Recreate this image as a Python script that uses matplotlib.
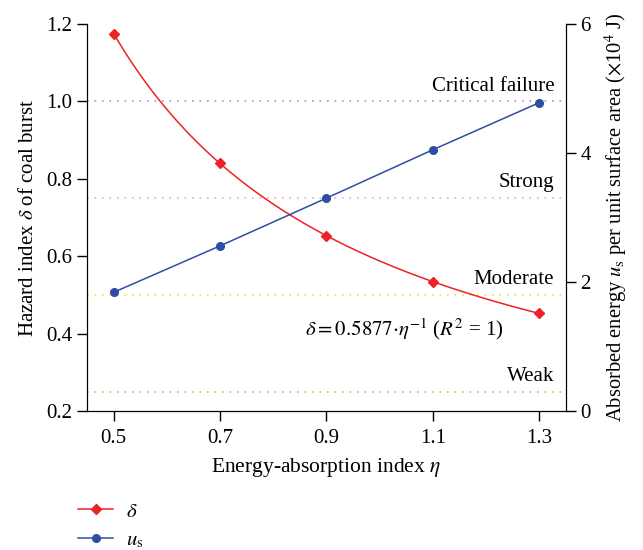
import numpy as np
import matplotlib
matplotlib.use('Agg')
from matplotlib import pyplot as plt

plt.rcParams['font.family'] = ['Liberation Serif', 'DejaVu Serif']
plt.rcParams['mathtext.fontset'] = 'stix'
plt.rcParams['font.size'] = 15

# data
eta = [0.5, 0.7, 0.9, 1.1, 1.3]
delta = [1.175, 0.840, 0.653, 0.534, 0.452]
u_s = [1.84, 2.56, 3.30, 4.05, 4.78]
fit_coef = 0.5877  # delta = 0.5877 / eta

levels = [1.0, 0.75, 0.5, 0.25]
level_names = ['Critical failure', 'Strong', 'Moderate', 'Weak']
level_colors = ['#c77fd6', '#f5a3c7', '#e6e33a', '#9ad45f']

red = '#ec2227'
blue = '#2f4ea3'

fig = plt.figure(figsize=(6.43, 5.5), dpi=100)
ax = fig.add_axes([0.1353, 0.2527, 0.7447, 0.7037])
ax2 = ax.twinx()

for lv, name, c in zip(levels, level_names, level_colors):
	ax.axhline(lv, color=c, linestyle=(0, (1, 3.5)), linewidth=1.2, zorder=1)
	ax.text(1.328, lv + 0.015, name, ha='right', va='bottom', fontsize=15)

xs = np.linspace(eta[0], eta[-1], 200)
ax.plot(xs, fit_coef / xs, color=red, linewidth=1.1, zorder=3)
ax.plot(eta, delta, linestyle='none', marker='D', markersize=5, color=red, zorder=4)
ax2.plot(eta, u_s, color=blue, linewidth=1.1, marker='o', markersize=5.5, zorder=4)

ax.text(0.86, 0.412, r'$\delta = 0.5877{\cdot}\eta^{-1}$ ($R^2$ = 1)', fontsize=15, va='center')

ax.set_xlim(0.45, 1.35)
ax.set_ylim(0.2, 1.2)
ax2.set_ylim(0, 6)
ax.set_xticks(eta)
ax.set_xticklabels(['0.5', '0.7', '0.9', '1.1', '1.3'])
ax.set_yticks([0.2, 0.4, 0.6, 0.8, 1.0, 1.2])
ax.set_yticklabels(['0.2', '0.4', '0.6', '0.8', '1.0', '1.2'])
ax2.set_yticks([0, 2, 4, 6])

for a in (ax, ax2):
	a.spines['top'].set_visible(False)
	a.tick_params(direction='out', length=7, width=1, labelsize=15)
ax.tick_params(axis='x', pad=6)

ax.set_xlabel(r'Energy-absorption index $\eta$', fontsize=15.5, labelpad=6)
ax.set_ylabel(r'Hazard index $\delta$ of coal burst', fontsize=15, labelpad=6)
ax2.set_ylabel(r'Absorbed energy $u_{\mathrm{s}}$ per unit surface area ($\times$10$^4$ J)', fontsize=14.8, labelpad=8)

h1, = ax.plot([], [], color=red, marker='D', markersize=5, linewidth=1.1)
h2, = ax.plot([], [], color=blue, marker='o', markersize=5.5, linewidth=1.1)
fig.legend([h1, h2], [r'$\delta$', r'$u_{\mathrm{s}}$'], loc='center left', bbox_to_anchor=(0.121, 0.043),
	frameon=False, fontsize=15, handlelength=1.7, handletextpad=0.6, labelspacing=0.45, borderpad=0, borderaxespad=0)

fig.savefig('out.png', dpi=100)
